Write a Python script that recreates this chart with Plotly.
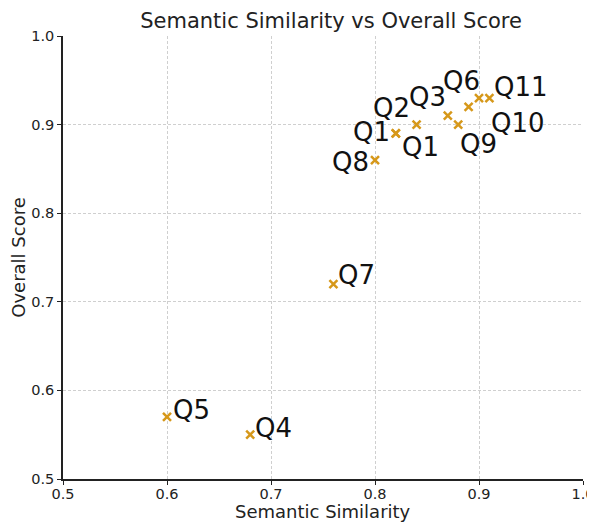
import plotly.graph_objects as go

questions = ["Q1", "Q2", "Q3", "Q4", "Q5", "Q6", "Q7", "Q8", "Q9", "Q10", "Q11", "Q1"]
semantic_similarity = [0.82, 0.84, 0.87, 0.68, 0.60, 0.90, 0.76, 0.80, 0.88, 0.89, 0.91, 0.82]
overall_score = [0.89, 0.90, 0.91, 0.55, 0.57, 0.93, 0.72, 0.86, 0.90, 0.92, 0.93, 0.89]

# label placement (anchor, xshift, yshift) in pixels
label_anchor = ["right", "right", "right", "left", "left", "right", "left", "right", "left", "left", "left", "left"]
label_dx = [-4, -5, 0, 3, 4, 3, 3, -4, 0, 20, 3, 4]
label_dy = [1, 17, 19, 7, 7, 17, 9, -2, -19, -16, 11, -14]

x_ticks = [0.5, 0.6, 0.7, 0.8, 0.9, 1.0]
y_ticks = [0.5, 0.6, 0.7, 0.8, 0.9, 1.0]

color = "#d6981a"
font = "DejaVu Sans"

fig = go.Figure()
fig.add_trace(go.Scatter(
    x=semantic_similarity, y=overall_score, mode="markers",
    marker=dict(symbol="x-thin-open", size=8, color=color,
                line=dict(color=color, width=2.5)),
    showlegend=False, cliponaxis=False,
))

for q, xv, yv, a, dx, dy in zip(questions, semantic_similarity, overall_score,
                                label_anchor, label_dx, label_dy):
    fig.add_annotation(x=xv, y=yv, text=q, showarrow=False, xanchor=a,
                       yanchor="middle", xshift=dx, yshift=dy,
                       font=dict(family=font, size=26, color="#111111"))

# x-axis title placed as paper annotation for precise position
fig.add_annotation(x=0.5, y=0, xref="paper", yref="paper", text="Semantic Similarity",
                   showarrow=False, xanchor="center", yanchor="middle", yshift=-32,
                   font=dict(family=font, size=18, color="#222222"))

fig.update_layout(
    width=595, height=522,
    margin=dict(l=55, r=20, t=28, b=51, autoexpand=False),
    paper_bgcolor="white", plot_bgcolor="white",
    title=dict(text="Semantic Similarity vs Overall Score", x=0.543, xanchor="center",
               y=1 - 13 / 522, yanchor="middle", font=dict(family=font, size=21, color="#222222")),
    font=dict(family=font, color="#222222"),
)
fig.update_xaxes(
    range=[0.5, 1.0], tickvals=x_ticks, ticktext=[f"{v:.1f}" for v in x_ticks],
    showgrid=True, gridcolor="#cfcfcf", griddash="3px,2px", gridwidth=1,
    showline=True, linecolor="#222222", linewidth=1.5, mirror=False,
    ticks="outside", ticklen=4, tickcolor="#222222", zeroline=False, automargin=False,
    ticklabelstandoff=-3,
    tickfont=dict(family=font, size=14.5, color="#222222"),
)
fig.update_yaxes(
    range=[0.5, 1.0], tickvals=y_ticks, ticktext=[f"{v:.1f}" for v in y_ticks],
    showgrid=True, gridcolor="#cfcfcf", griddash="3px,2px", gridwidth=1,
    showline=True, linecolor="#222222", linewidth=1.5, mirror=False,
    ticks="outside", ticklen=4, tickcolor="#222222", zeroline=False, automargin=False,
    tickfont=dict(family=font, size=14.5, color="#222222"),
    title=dict(text="Overall Score", font=dict(family=font, size=18, color="#222222"), standoff=4),
)

fig.write_html("out.html")
